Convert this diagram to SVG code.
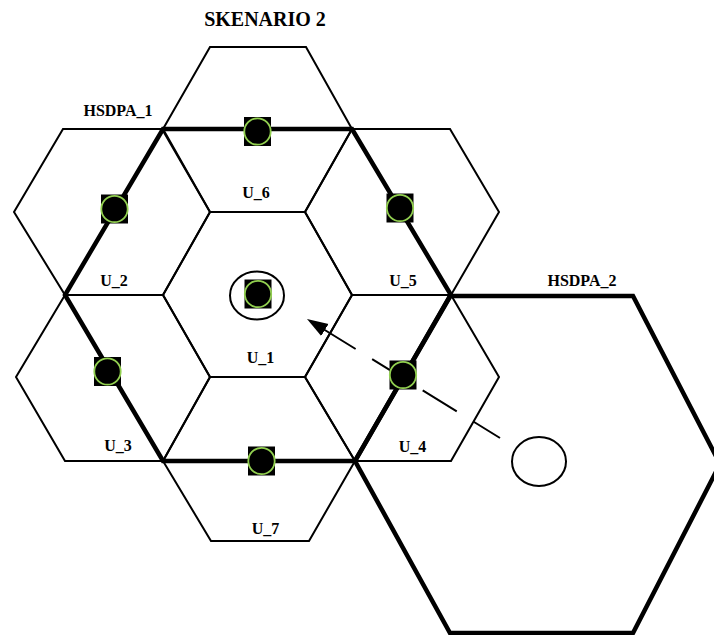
<svg xmlns="http://www.w3.org/2000/svg" width="714" height="635" viewBox="0 0 714 635">
  <style>
    .cell { fill: none; stroke: #000; stroke-width: 2; stroke-linejoin: miter; }
    .zone { fill: none; stroke: #000; stroke-width: 4.5; stroke-linejoin: miter; }
    .label { font-family: "Liberation Serif", "Times New Roman", serif; font-weight: bold; font-size: 16px; fill: #000; text-anchor: middle; }
    .title { font-size: 20px; }
    .ring { fill: none; stroke: #000; stroke-width: 2; }
    .node-box { fill: #000; }
    .node-dot { fill: #000; stroke: #92D050; stroke-width: 1.8; }
    .move { fill: none; stroke: #000; stroke-width: 2; stroke-dasharray: 40 19.4; stroke-dashoffset: 8.6; }
  </style>
  <defs>
    <marker id="arrowhead" markerUnits="userSpaceOnUse" markerWidth="22" markerHeight="16" viewBox="0 0 22 16" refX="21" refY="8" orient="auto">
      <path d="M0,1 L21,8 L0,15 z" fill="#000"/>
    </marker>
    <g id="bts">
      <rect class="node-box" x="-13.5" y="-14.5" width="27" height="29"/>
      <circle class="node-dot" cx="0" cy="0" r="13.2"/>
    </g>
  </defs>

  <rect width="714" height="635" fill="#fff"/>

  <text class="label title" x="265" y="25.5">SKENARIO 2</text>

  <!-- cells of the first cluster -->
  <g id="cell-u6"><polygon class="cell" points="210,47 306,47 352,129 305,212 210,212 163,129"/></g>
  <g id="cell-u2"><polygon class="cell" points="63,129 162,129 210,212 163,295 65,295 14,212"/></g>
  <g id="cell-u5"><polygon class="cell" points="352,129 450,129 499,212 451,295 352,295 305,212"/></g>
  <g id="cell-u1"><polygon class="cell" points="210,212 305,212 352,295 305,377 210,377 163,295"/></g>
  <g id="cell-u3"><polygon class="cell" points="65,295 163,295 210,377 163,461 65,461 16,377"/></g>
  <g id="cell-u4"><polygon class="cell" points="352,295 451,295 499,377 451,461 355,461 305,377"/></g>
  <g id="cell-u7"><polygon class="cell" points="210,377 305,377 355,461 309,541 211,541 163,461"/></g>

  <!-- coverage boundaries -->
  <g id="hsdpa-1">
    <polygon class="zone" points="163,129 352,129 451,295 355,461 163,461 65,295"/>
    <text class="label" x="118" y="116">HSDPA_1</text>
  </g>
  <g id="hsdpa-2">
    <polygon class="zone" points="355,461 450,296 633,296 720,464 633,633 450,633"/>
    <text class="label" x="582" y="286">HSDPA_2</text>
  </g>

  <!-- cell labels -->
  <g id="labels">
    <text class="label" x="256" y="198">U_6</text>
    <text class="label" x="114" y="286">U_2</text>
    <text class="label" x="403" y="286">U_5</text>
    <text class="label" x="260.5" y="363">U_1</text>
    <text class="label" x="118" y="451">U_3</text>
    <text class="label" x="412.5" y="452">U_4</text>
    <text class="label" x="265.5" y="534">U_7</text>
  </g>

  <!-- handover path of the mobile user -->
  <g id="connectors">
    <line class="move" x1="500" y1="438" x2="307" y2="319" marker-end="url(#arrowhead)"/>
  </g>

  <!-- base stations -->
  <g id="bts-u6"><use href="#bts" x="257.5" y="131.5"/></g>
  <g id="bts-u2"><use href="#bts" x="114.5" y="209"/></g>
  <g id="bts-u5"><use href="#bts" x="400" y="208"/></g>
  <g id="bts-u1">
    <ellipse class="ring" cx="257" cy="295.5" rx="27" ry="24"/>
    <use href="#bts" x="258" y="294"/>
  </g>
  <g id="bts-u3"><use href="#bts" x="107.5" y="371.5"/></g>
  <g id="bts-u4"><use href="#bts" x="403" y="375"/></g>
  <g id="bts-u7"><use href="#bts" x="261.5" y="461"/></g>

  <!-- mobile user -->
  <g id="ue"><ellipse class="ring" cx="539" cy="461.5" rx="27" ry="24.5" fill="#fff"/></g>
</svg>
